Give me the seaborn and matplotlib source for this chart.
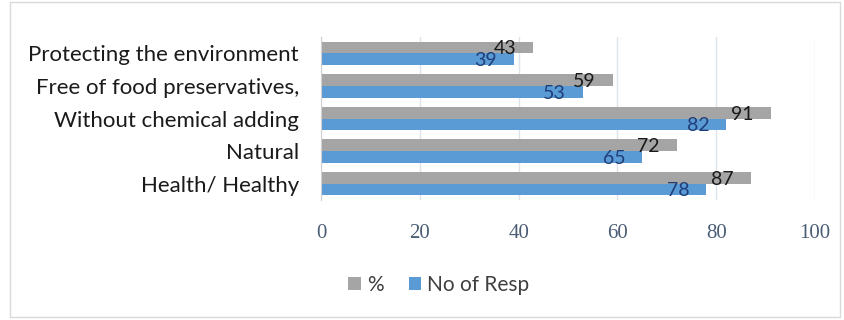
import pandas as pd
import matplotlib.pyplot as plt
import seaborn as sns
from matplotlib.patches import Rectangle

categories = ["Protecting the environment", "Free of food preservatives,",
              "Without chemical adding", "Natural", "Health/ Healthy"]
pct = [43, 59, 91, 72, 87]
resp = [39, 53, 82, 65, 78]
series_names = ["%", "No of Resp"]
x_ticks = [0, 20, 40, 60, 80, 100]


def main():
    df = pd.DataFrame({
        "category": categories * 2,
        "value": pct + resp,
        "series": [series_names[0]] * len(pct) + [series_names[1]] * len(resp),
    })

    sns.set_style("white")
    plt.rcParams["font.family"] = ["Lato", "DejaVu Sans"]

    fig = plt.figure(figsize=(8.45, 3.2), dpi=100)
    fig.patches.append(Rectangle((0.012, 0.01), 0.982, 0.985, transform=fig.transFigure,
                                 fill=False, edgecolor="#d9d9d9", linewidth=1))
    ax = fig.add_axes([0.380, 0.375, 0.5845, 0.509])

    sns.barplot(data=df, y="category", x="value", hue="series", orient="h",
                palette=["#a5a5a5", "#5b9bd5"], width=0.72, ax=ax,
                saturation=1, legend=True, linewidth=0, edgecolor="none")

    # value labels, right-aligned just inside bar end
    label_colors = ["#1a1a1a", "#1f3f7a"]
    for cont, col in zip(ax.containers, label_colors):
        for bar in cont:
            w = bar.get_width()
            yc = bar.get_y() + bar.get_height() * 0.62
            ax.text(w - 3.4, yc, f"{w:.0f}", ha="right", va="center",
                    fontsize=14, color=col, family=["Lato", "DejaVu Sans"])

    ax.set_xlim(0, 100)
    ax.set_ylim(4.5, -0.5)
    ax.set_xticks(x_ticks)
    ax.set_xticklabels([str(t) for t in x_ticks], fontsize=15, color="#4a5d75",
                       family=["Liberation Serif", "DejaVu Serif"])
    ax.tick_params(axis="x", pad=17, length=0)
    ax.tick_params(axis="y", pad=16, length=0, labelsize=16, labelcolor="#1a1a1a")
    ax.xaxis.grid(True, color="#dce3ea", linewidth=1)
    ax.set_axisbelow(True)
    ax.set_xlabel("")
    ax.set_ylabel("")
    for s in ["top", "right", "bottom"]:
        ax.spines[s].set_visible(False)
    ax.spines["left"].set_color("#d0d0d0")

    handles, labels = ax.get_legend_handles_labels()
    ax.legend(handles, labels, loc="center", bbox_to_anchor=(439 / 845, 1 - 285 / 320),
              bbox_transform=fig.transFigure, ncol=2, frameon=False, fontsize=15,
              handlelength=0.6, handleheight=0.6, handletextpad=0.3, columnspacing=1.2,
              labelcolor="#404040")

    fig.savefig("out.png", dpi=100)
    plt.close(fig)


if __name__ == "__main__":
    main()
